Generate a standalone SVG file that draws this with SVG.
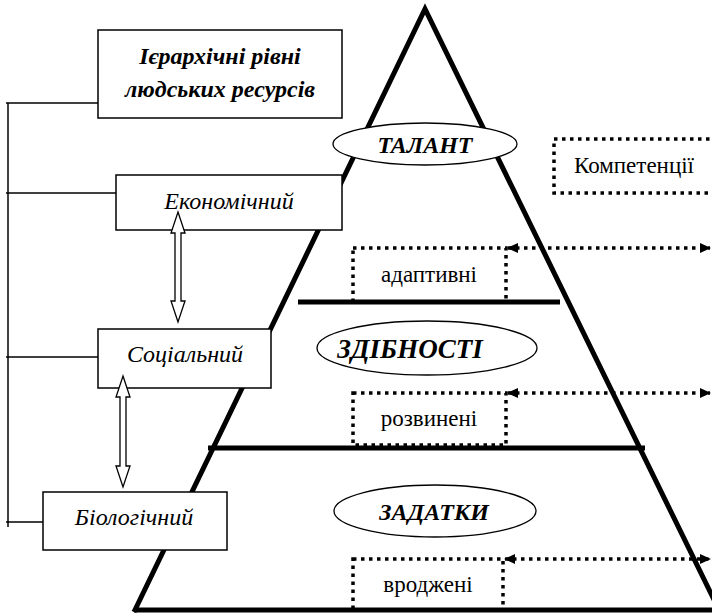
<svg xmlns="http://www.w3.org/2000/svg" width="712" height="616" viewBox="0 0 712 616">
<style>
.thick{stroke:#000;stroke-width:5;fill:none;stroke-linecap:butt}
.box{fill:#fff;stroke:#000;stroke-width:1.5}
.ell{fill:#fff;stroke:#000;stroke-width:1.3}
.dot{fill:none;stroke:#000;stroke-width:3.5;stroke-dasharray:3.5 4.5}
.thin{stroke:#000;stroke-width:1.5;fill:none}
.hollow{fill:#fff;stroke:#000;stroke-width:1.3;stroke-linejoin:miter}
text{font-family:'Liberation Serif','Times New Roman',serif;text-anchor:middle}
.bi{font-weight:bold;font-style:italic;font-size:24px}
.it{font-style:italic;font-size:24px}
.rg{font-size:23px}
</style>
<defs>
<marker id="ah" markerUnits="userSpaceOnUse" markerWidth="12" markerHeight="12" refX="10" refY="6" orient="auto-start-reverse" viewBox="0 0 12 12">
<path d="M0,1 L11,6 L0,11 Z" fill="#000"/>
</marker>
</defs>
<rect width="712" height="616" fill="#fff"/>

<g id="pyramid">
<polyline class="thick" points="134,612 425,9 720,612"/>
<line class="thick" x1="134" y1="610" x2="712" y2="610"/>
<line class="thick" x1="298" y1="302" x2="560" y2="302"/>
<line class="thick" x1="208" y1="448" x2="645" y2="448"/>
</g>

<g id="connectors">
<polyline class="thin" points="8,103 8,527"/>
<line class="thin" x1="6" y1="103" x2="98" y2="103"/>
<line class="thin" x1="6" y1="193" x2="116" y2="193"/>
<line class="thin" x1="6" y1="357" x2="98" y2="357"/>
<line class="thin" x1="6" y1="522" x2="43" y2="522"/>
<line class="dot" x1="508" y1="248" x2="710" y2="248" marker-start="url(#ah)" marker-end="url(#ah)"/>
<line class="dot" x1="508" y1="393" x2="710" y2="393" marker-start="url(#ah)" marker-end="url(#ah)"/>
<line class="dot" x1="505" y1="559" x2="710" y2="559" marker-start="url(#ah)" marker-end="url(#ah)"/>
</g>

<g id="talant">
<ellipse class="ell" cx="425" cy="144" rx="92" ry="21"/>
<text class="bi" x="425" y="153">ТАЛАНТ</text>
</g>
<g id="zdibnosti">
<ellipse class="ell" cx="427" cy="348" rx="110" ry="27"/>
<text class="bi" style="font-size:27px" x="410" y="358">ЗДІБНОСТІ</text>
</g>
<g id="zadatky">
<ellipse class="ell" cx="435" cy="511" rx="101" ry="26"/>
<text class="bi" x="434" y="520">ЗАДАТКИ</text>
</g>

<g id="kompetentsii">
<rect class="dot" x="554" y="139" width="170" height="54"/>
<text class="rg" x="634" y="173">Компетенції</text>
</g>
<g id="adaptyvni">
<rect class="dot" x="353" y="248" width="153" height="54"/>
<text class="rg" x="429" y="282">адаптивні</text>
</g>
<g id="rozvyneni">
<rect class="dot" x="353" y="393" width="153" height="52"/>
<text class="rg" x="429" y="426">розвинені</text>
</g>
<g id="vrodzheni">
<rect class="dot" x="353" y="559" width="150" height="51"/>
<text class="rg" x="428" y="592">вроджені</text>
</g>

<g id="title">
<rect class="box" x="98" y="30" width="244" height="88"/>
<text class="bi" x="220" y="64">Ієрархічні рівні</text>
<text class="bi" x="220" y="97">людських ресурсів</text>
</g>
<g id="ekonomichnyi">
<rect class="box" x="116" y="175" width="226" height="55"/>
<text class="it" x="229" y="209">Економічний</text>
</g>
<g id="sotsialnyi">
<rect class="box" x="98" y="329" width="173" height="59"/>
<text class="it" x="185" y="362">Соціальний</text>
</g>
<g id="biolohichnyi">
<rect class="box" x="43" y="492" width="184" height="58"/>
<text class="it" x="134" y="525">Біологічний</text>
</g>

<g id="arrows">
<polygon class="hollow" points="178,212 185,233 181,233 181,301 185,301 178,322 171,301 175,301 175,233 171,233"/>
<polygon class="hollow" points="123,376 130,397 126,397 126,466 130,466 123,487 116,466 120,466 120,397 116,397"/>
</g>
</svg>
